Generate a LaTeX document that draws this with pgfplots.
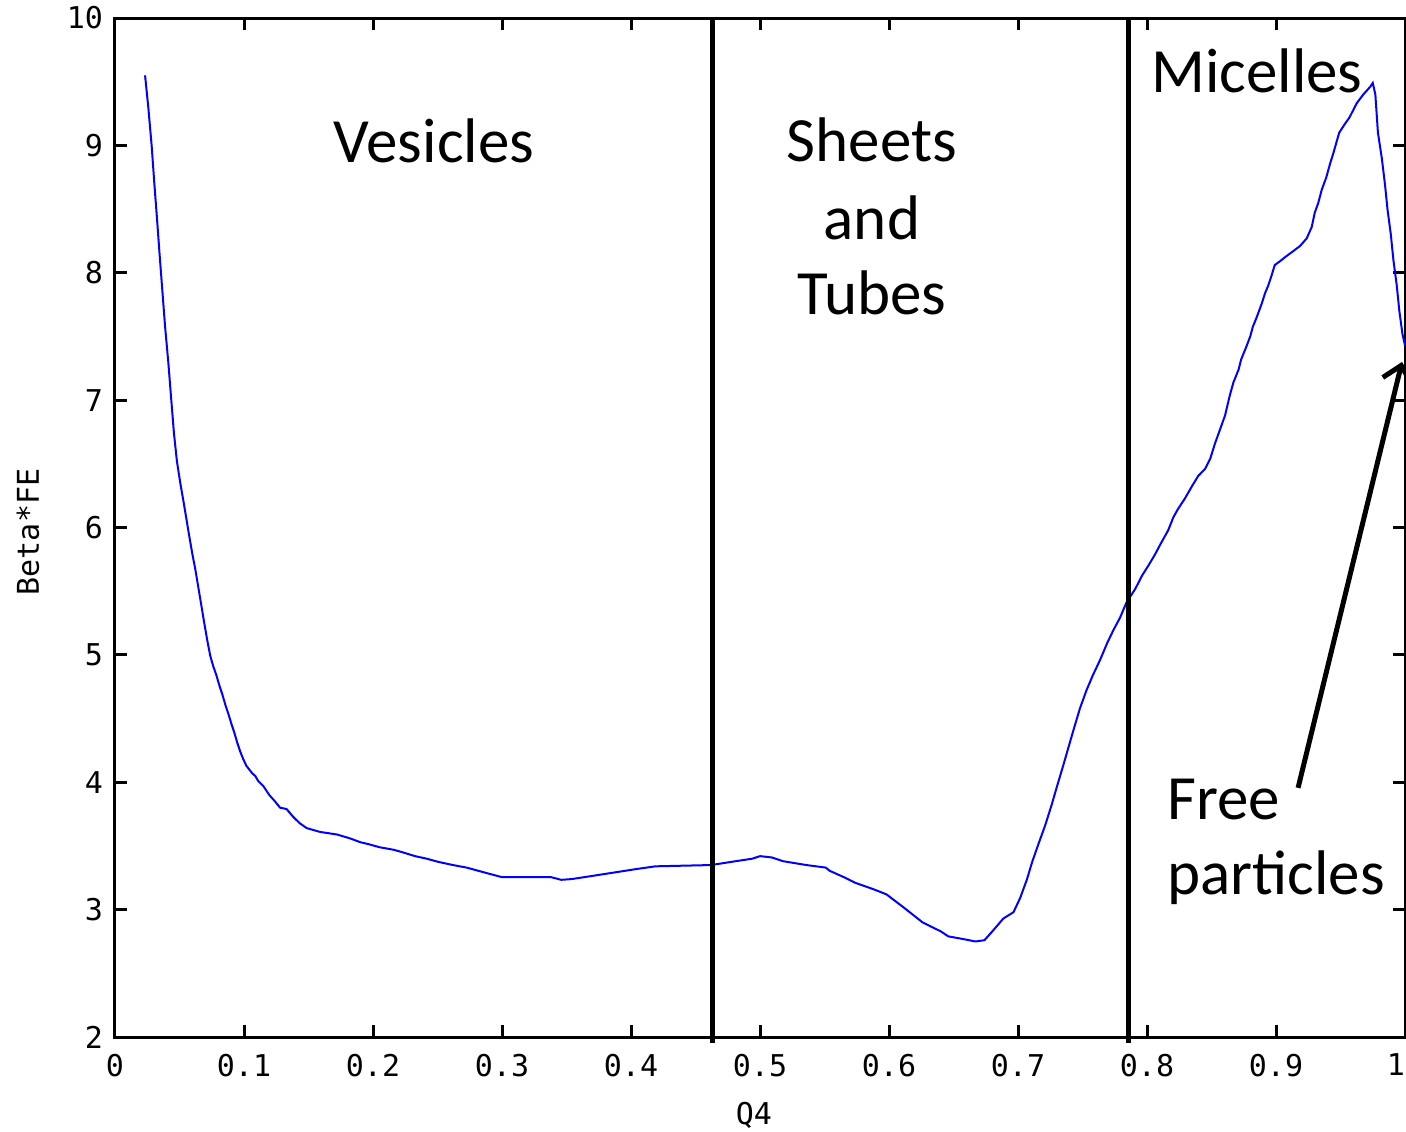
\documentclass[border=0pt]{standalone}
\usepackage{pgfplots}
\pgfplotsset{compat=1.18}
\usepackage{fontspec}
\setmainfont{Carlito}
\newfontfamily\pixfont{DejaVu Sans Mono}
\usetikzlibrary{arrows.meta}

% free energy profile along Q4
\pgfplotstableread{
x y
0.0233 9.55
0.0258 9.30
0.0284 9.00
0.0305 8.70
0.0326 8.42
0.0346 8.14
0.0367 7.86
0.0388 7.58
0.0413 7.30
0.0434 7.03
0.0457 6.74
0.0480 6.52
0.0506 6.35
0.0530 6.21
0.0553 6.07
0.0576 5.93
0.0600 5.79
0.0623 5.67
0.0646 5.53
0.0669 5.39
0.0692 5.25
0.0716 5.11
0.0739 4.99
0.0762 4.91
0.0786 4.84
0.0809 4.76
0.0832 4.69
0.0855 4.61
0.0878 4.54
0.0902 4.46
0.0925 4.39
0.0948 4.31
0.0971 4.24
0.0995 4.18
0.1018 4.13
0.1041 4.10
0.1064 4.07
0.1087 4.05
0.1110 4.01
0.1150 3.97
0.1196 3.90
0.1240 3.85
0.1280 3.80
0.1330 3.79
0.1380 3.73
0.1430 3.68
0.1486 3.64
0.1590 3.61
0.1720 3.59
0.1820 3.56
0.1900 3.53
0.1980 3.51
0.2050 3.49
0.2160 3.47
0.2230 3.45
0.2326 3.42
0.2416 3.40
0.2506 3.375
0.2620 3.35
0.2726 3.33
0.2816 3.305
0.2907 3.28
0.3000 3.255
0.3380 3.255
0.3460 3.234
0.3540 3.24
0.3670 3.26
0.3860 3.29
0.4050 3.32
0.4190 3.34
0.4620 3.35
0.4810 3.38
0.4940 3.40
0.5000 3.42
0.5090 3.41
0.5180 3.38
0.5360 3.35
0.5510 3.33
0.5540 3.305
0.5650 3.255
0.5740 3.21
0.5880 3.16
0.5980 3.12
0.6110 3.02
0.6260 2.90
0.6400 2.83
0.6460 2.79
0.6570 2.77
0.6670 2.75
0.6740 2.76
0.6810 2.84
0.6886 2.93
0.6965 2.98
0.7016 3.09
0.7068 3.234
0.7110 3.375
0.7160 3.52
0.7210 3.66
0.7260 3.82
0.7300 3.96
0.7350 4.13
0.7390 4.27
0.7430 4.41
0.7480 4.58
0.7530 4.72
0.7580 4.84
0.7636 4.96
0.7690 5.09
0.7740 5.196
0.7790 5.29
0.7840 5.41
0.7910 5.52
0.7960 5.62
0.8010 5.70
0.8060 5.785
0.8110 5.88
0.8165 5.98
0.8204 6.08
0.8240 6.145
0.8295 6.23
0.8346 6.32
0.8397 6.405
0.8450 6.46
0.8490 6.54
0.8527 6.66
0.8566 6.77
0.8605 6.88
0.8640 7.03
0.8670 7.14
0.8710 7.24
0.8730 7.32
0.8770 7.42
0.8800 7.50
0.8820 7.575
0.8850 7.65
0.8890 7.76
0.8915 7.84
0.8940 7.90
0.8966 7.98
0.8990 8.06
0.9030 8.09
0.9080 8.13
0.9134 8.17
0.9186 8.21
0.9238 8.27
0.9277 8.36
0.9300 8.47
0.9328 8.55
0.9354 8.65
0.9390 8.75
0.9420 8.86
0.9445 8.94
0.9470 9.03
0.9490 9.10
0.9535 9.17
0.9570 9.22
0.9625 9.33
0.9677 9.40
0.9730 9.46
0.9750 9.49
0.9770 9.40
0.9790 9.10
0.9820 8.90
0.9845 8.69
0.9864 8.50
0.9890 8.30
0.9910 8.10
0.9936 7.90
0.9956 7.70
0.9980 7.52
1.0000 7.43
}\fe

\begin{document}
\begin{tikzpicture}
\useasboundingbox (-57.5pt,-47pt) rectangle (645.5pt,518.5pt);
\begin{axis}[
    at={(0pt,0pt)}, anchor=south west,
    scale only axis, width=645pt, height=509.5pt,
    xmin=0, xmax=1, ymin=2, ymax=10,
    xtick={0,0.1,0.2,0.3,0.4,0.5,0.6,0.7,0.8,0.9,1},
    xticklabels={0,0.1,0.2,0.3,0.4,0.5,0.6,0.7,0.8,0.9,\llap{1}},
    ytick={2,3,4,5,6,7,8,9,10},
    yticklabels={2,3,4,5,6,7,8,9,10},
    tick label style={font=\pixfont\fontsize{15}{15}\selectfont},
    xticklabel style={yshift=-5pt},
    yticklabel style={xshift=-2.5pt},
    major tick length=6pt,
    every tick/.style={black, line width=1.5pt},
    axis line style={line width=1.5pt},
    clip=false,
    xlabel={Q4}, ylabel={Beta*FE},
    label style={font=\pixfont\fontsize{15}{15}\selectfont},
    x label style={at={(axis description cs:0.4953,-0.0765)}, anchor=center},
    y label style={at={(axis description cs:-0.0674,0.4956)}, anchor=center},
]
\addplot[blue, line width=1pt, sharp plot] table[x=x, y=y] {\fe};

\draw[black, line width=2.5pt] (axis cs:0.4628,1.95) -- (axis cs:0.4628,10);
\draw[black, line width=2.5pt] (axis cs:0.7853,1.95) -- (axis cs:0.7853,10);

\begin{scope}[every node/.style={font=\fontsize{31.5}{31.5}\selectfont, inner sep=0pt}]
\node[anchor=base] at (axis cs:0.2473,8.862) {Vesicles};
\node[anchor=base] at (axis cs:0.5868,8.870) {Sheets};
\node[anchor=base] at (axis cs:0.5868,8.265) {and};
\node[anchor=base] at (axis cs:0.5868,7.669) {Tubes};
\node[anchor=base] at (axis cs:0.8853,9.419) {Micelles};
\node[anchor=base west] at (axis cs:0.8155,3.705) {Free};
\node[anchor=base west] at (axis cs:0.8155,3.116) {particles};
\end{scope}

\draw[black, line width=2.5pt, -{Straight Barb[length=8pt, width=15pt]}]
    (axis cs:0.9171,3.956) -- (axis cs:0.9977,7.30);
\end{axis}
\end{tikzpicture}
\end{document}
